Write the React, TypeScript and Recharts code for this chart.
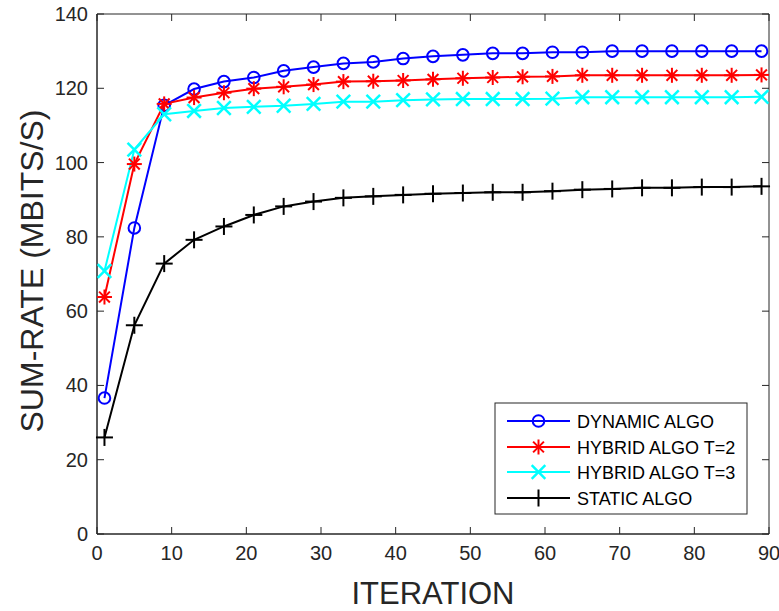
import React from 'react';
import { LineChart, Line, XAxis, YAxis, ReferenceArea } from 'recharts';

const iterations = [1, 5, 9, 13, 17, 21, 25, 29, 33, 37, 41, 45, 49, 53, 57, 61, 65, 69, 73, 77, 81, 85, 89];
const dynamicAlgo = [36.6, 82.4, 115.4, 119.8, 121.8, 122.9, 124.7, 125.7, 126.7, 127.1, 128.0, 128.6, 129.0, 129.4, 129.4, 129.7, 129.7, 130.0, 130.0, 130.0, 130.0, 130.0, 130.0];
const hybridT2 = [63.8, 99.6, 115.8, 117.5, 118.8, 119.9, 120.4, 121.0, 121.8, 121.9, 122.1, 122.4, 122.7, 122.9, 123.1, 123.2, 123.5, 123.5, 123.5, 123.5, 123.5, 123.5, 123.6];
const hybridT3 = [70.8, 103.5, 113.0, 113.9, 114.7, 115.0, 115.3, 115.8, 116.4, 116.4, 116.8, 117.0, 117.1, 117.1, 117.1, 117.2, 117.6, 117.6, 117.6, 117.6, 117.6, 117.6, 117.7];
const staticAlgo = [26.0, 56.2, 72.8, 79.2, 82.8, 85.9, 88.2, 89.5, 90.5, 90.9, 91.3, 91.6, 91.8, 92.0, 92.0, 92.3, 92.7, 92.9, 93.2, 93.2, 93.4, 93.4, 93.6];

const xTicks = [0, 10, 20, 30, 40, 50, 60, 70, 80, 90];
const yTicks = [0, 20, 40, 60, 80, 100, 120, 140];

const seriesNames = ['DYNAMIC ALGO', 'HYBRID ALGO T=2', 'HYBRID ALGO T=3', 'STATIC ALGO'];

const data = iterations.map((it, i) => ({
  it,
  dyn: dynamicAlgo[i],
  h2: hybridT2[i],
  h3: hybridT3[i],
  st: staticAlgo[i],
}));

const W = 779;
const H = 611;
const LEFT = 97;
const RIGHT = 769;
const TOP = 14;
const BOTTOM = 534;
const AXIS = '#262626';
const FONT = '"Liberation Sans", Arial, Helvetica, sans-serif';
const TICK_LEN = 7;

const BLUE = '#0000ff';
const RED = '#ff0000';
const CYAN = '#00ffff';
const BLACK = '#000000';

function Circle({ cx, cy }: any) {
  return <circle cx={cx} cy={cy} r={5.8} fill="none" stroke={BLUE} strokeWidth={2} />;
}
function Asterisk({ cx, cy }: any) {
  const s = 7.5;
  const d = s * 0.72;
  return (
    <g stroke={RED} strokeWidth={2}>
      <line x1={cx - s} y1={cy} x2={cx + s} y2={cy} />
      <line x1={cx} y1={cy - s} x2={cx} y2={cy + s} />
      <line x1={cx - d} y1={cy - d} x2={cx + d} y2={cy + d} />
      <line x1={cx - d} y1={cy + d} x2={cx + d} y2={cy - d} />
    </g>
  );
}
function Cross({ cx, cy }: any) {
  const s = 6.8;
  return (
    <g stroke={CYAN} strokeWidth={2.5}>
      <line x1={cx - s} y1={cy - s} x2={cx + s} y2={cy + s} />
      <line x1={cx - s} y1={cy + s} x2={cx + s} y2={cy - s} />
    </g>
  );
}
function Plus({ cx, cy }: any) {
  const s = 8.5;
  return (
    <g stroke={BLACK} strokeWidth={2}>
      <line x1={cx - s} y1={cy} x2={cx + s} y2={cy} />
      <line x1={cx} y1={cy - s} x2={cx} y2={cy + s} />
    </g>
  );
}

const markerFns = [Circle, Asterisk, Cross, Plus];
const colors = [BLUE, RED, CYAN, BLACK];
const keys = ['dyn', 'h2', 'h3', 'st'];

function XTick(props: any) {
  const { x, payload } = props;
  return (
    <g>
      <line x1={x} y1={BOTTOM} x2={x} y2={BOTTOM - TICK_LEN} stroke={AXIS} strokeWidth={1} />
      <line x1={x} y1={TOP} x2={x} y2={TOP + TICK_LEN} stroke={AXIS} strokeWidth={1} />
      <text x={x} y={BOTTOM + 26} textAnchor="middle" fontSize={20} fontFamily={FONT} fill={AXIS}>
        {payload.value}
      </text>
    </g>
  );
}

function YTick(props: any) {
  const { y, payload } = props;
  return (
    <g>
      <line x1={LEFT} y1={y} x2={LEFT + TICK_LEN} y2={y} stroke={AXIS} strokeWidth={1} />
      <line x1={RIGHT} y1={y} x2={RIGHT - TICK_LEN} y2={y} stroke={AXIS} strokeWidth={1} />
      <text x={LEFT - 9} y={y + 7} textAnchor="end" fontSize={20} fontFamily={FONT} fill={AXIS}>
        {payload.value}
      </text>
    </g>
  );
}

function Legendbox() {
  const lx = 495;
  const ly = 403;
  const rowY = [421, 447, 472, 498];
  return (
    <svg width={W} height={H} style={{ position: 'absolute', left: 0, top: 0, pointerEvents: 'none' }}>
      <rect x={lx} y={ly} width={252} height={111} fill="#ffffff" stroke={AXIS} strokeWidth={1} />
      {seriesNames.map((name, i) => {
        const M = markerFns[i];
        return (
          <g key={name}>
            <line x1={507} y1={rowY[i]} x2={570} y2={rowY[i]} stroke={colors[i]} strokeWidth={2} />
            <M cx={538.5} cy={rowY[i]} />
            <text x={577} y={rowY[i] + 6.5} fontSize={18} fontFamily={FONT} fill="#000">
              {name}
            </text>
          </g>
        );
      })}
    </svg>
  );
}

export default function App() {
  return (
    <div style={{ position: 'absolute', left: 0, top: 0, width: W, height: H, background: '#fff' }}>
      <LineChart width={W} height={H} data={data} margin={{ top: TOP, right: W - RIGHT, bottom: 0, left: 0 }}>
        <ReferenceArea x1={0} x2={90} y1={0} y2={140} fill="none" stroke={AXIS} strokeWidth={1} ifOverflow="visible" />
        <XAxis
          dataKey="it"
          type="number"
          domain={[0, 90]}
          ticks={xTicks}
          height={H - BOTTOM}
          axisLine={{ stroke: AXIS, strokeWidth: 1 }}
          tickLine={false}
          tick={<XTick />}
          interval={0}
          label={(p: any) => {
            const vb = p.viewBox || { x: LEFT, width: RIGHT - LEFT };
            return (
              <text x={vb.x + vb.width / 2} y={604} textAnchor="middle" fontSize={31} fontFamily={FONT} fill={AXIS}>
                ITERATION
              </text>
            );
          }}
        />
        <YAxis
          type="number"
          domain={[0, 140]}
          ticks={yTicks}
          width={LEFT}
          axisLine={{ stroke: AXIS, strokeWidth: 1 }}
          tickLine={false}
          tick={<YTick />}
          interval={0}
          label={(p: any) => {
            const vb = p.viewBox || { y: TOP, height: BOTTOM - TOP };
            const cy = vb.y + vb.height / 2 - 3;
            return (
              <text x={43} y={cy} transform={`rotate(-90 43 ${cy})`} textAnchor="middle" fontSize={32} fontFamily={FONT} fill={AXIS}>
                SUM-RATE (MBITS/S)
              </text>
            );
          }}
        />
        {keys.map((k, i) => {
          const M = markerFns[i];
          return (
            <Line
              key={k}
              type="linear"
              dataKey={k}
              name={seriesNames[i]}
              stroke={colors[i]}
              strokeWidth={2}
              dot={(p: any) => <M key={`${k}-${p.index}`} cx={p.cx} cy={p.cy} />}
              activeDot={false}
              isAnimationActive={false}
            />
          );
        })}
      </LineChart>
      <Legendbox />
    </div>
  );
}
